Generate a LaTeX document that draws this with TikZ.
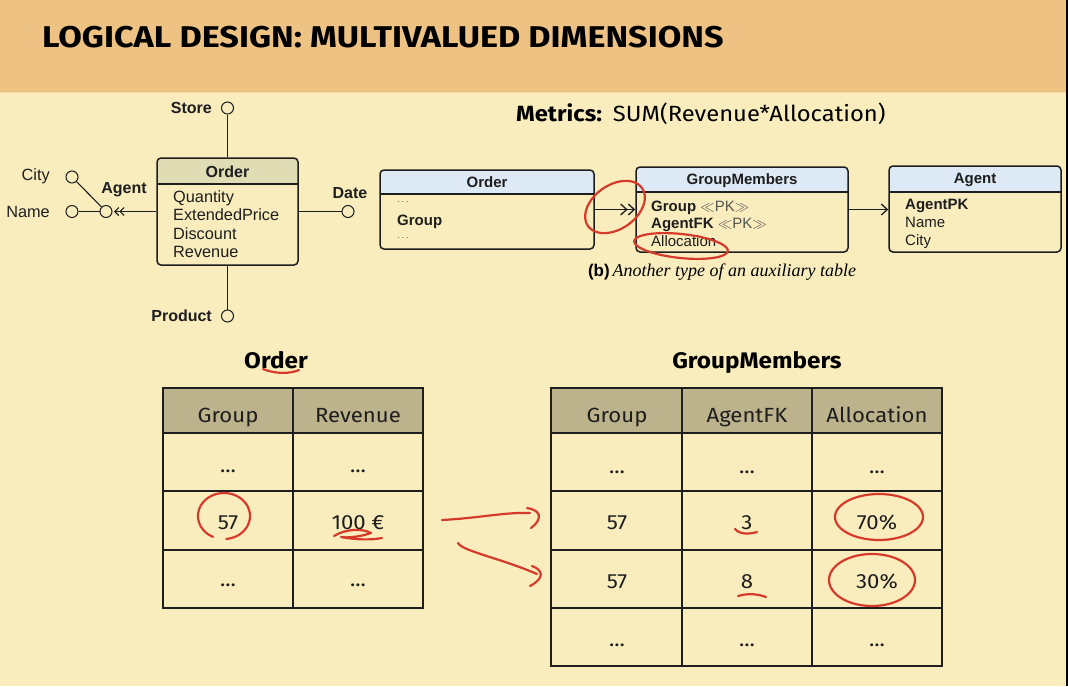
\documentclass[tikz,border=0pt]{standalone}
\usepackage{fontspec}
\setmainfont{Liberation Sans}
\newfontfamily\helv{Liberation Sans}
\newfontfamily\tms{Liberation Serif}
\newfontfamily\comic[FakeStretch=1.08]{Fira Sans}
\newfontfamily\comictitle[FakeStretch=1.14]{Fira Sans}
\usetikzlibrary{arrows.meta}
\definecolor{band}{HTML}{EDC283}
\definecolor{bandline}{HTML}{F4D9A4}
\definecolor{bg}{HTML}{F9EDBE}
\definecolor{dfmhdr}{HTML}{E0DCB4}
\definecolor{bluehdr}{HTML}{DDE9F5}
\definecolor{thdr}{HTML}{BCB28B}
\definecolor{ink}{HTML}{1E1E1E}
\definecolor{redc}{HTML}{D63A2A}
\definecolor{pkgray}{HTML}{555555}
\newcommand\redloop[7]{%
  \draw[redpen] plot[domain=#6:#7, samples=70, smooth, variable=\t]
   ({#1+#3*cos(\t)*cos(#5)+#4*sin(\t)*sin(#5)},
    {#2-#3*cos(\t)*sin(#5)+#4*sin(\t)*cos(#5)});}
\begin{document}
\begin{tikzpicture}[x=1pt,y=-1pt,
  box/.style={draw=ink, line width=1.5pt, rounded corners=4pt, inner sep=0pt},
  conn/.style={draw=ink, line width=1.1pt},
  circ/.style={circle, draw=ink, line width=1pt, minimum size=12pt, inner sep=0pt, fill=bg},
  dfm/.style={font=\helv\fontsize{16.3}{18}\selectfont, inner sep=0pt, text=ink},
  dfmb/.style={font=\helv\bfseries\fontsize{16}{18}\selectfont, inner sep=0pt, text=ink},
  rt/.style={font=\helv\fontsize{15}{18}\selectfont, inner sep=0pt, text=ink, anchor=base west},
  rtb/.style={font=\helv\bfseries\fontsize{15}{18}\selectfont, inner sep=0pt, text=ink, anchor=base},
  tcell/.style={font=\comic\fontsize{20.5}{20.5}\selectfont, inner sep=0pt, anchor=base, text=ink},
  ttitle/.style={font=\comic\bfseries\fontsize{22.5}{22.5}\selectfont, inner sep=0pt, anchor=base, text=black},
  tgrid/.style={draw=ink, line width=1.8pt},
  touter/.style={draw=ink, line width=2.6pt},
  redpen/.style={draw=redc, line width=2.2pt, line cap=round, line join=round},
  barb/.style={-{Straight Barb[length=6pt,width=11pt]Straight Barb[length=6pt,width=11pt]}}
]
\useasboundingbox (0,0) rectangle (1068,686);
\fill[bg] (0,0) rectangle (1068,686);
\fill[band] (0,0) rectangle (1068,92);
\draw[bandline, line width=1.5pt] (0,92.5) -- (1068,92.5);
\fill[black] (1066,0) rectangle (1068,686);

% title
\node[anchor=base west, inner sep=0pt, font=\comictitle\bfseries\fontsize{30}{30}\selectfont] (title) at (42,47) {LOGICAL DESIGN: MULTIVALUED DIMENSIONS};

% ---------------- left DFM schema ----------------
\begin{scope}
\clip (157,158) rectangle (298,184);
\fill[dfmhdr, rounded corners=4pt] (157,158) rectangle (298,265);
\end{scope}
\node[box, minimum width=141pt, minimum height=107pt] (ordL) at (227.5,211.5) {};
\draw[ink, line width=1.3pt] (157,184) -- (298,184);
\node[dfmb, anchor=base] (ordLt) at (227.5,177) {Order};
\node[dfm, anchor=base west] (aq) at (173,202) {Quantity};
\node[dfm, anchor=base west] (ae) at (173,220.5) {ExtendedPrice};
\node[dfm, anchor=base west] (ad) at (173,239) {Discount};
\node[dfm, anchor=base west] (ar) at (173,257.5) {Revenue};

\node[circ] (store) at (227.5,108) {};
\node[circ] (product) at (227.5,316) {};
\node[circ] (date) at (348,211.5) {};
\node[circ] (agent) at (106,211.5) {};
\node[circ] (name) at (72,211.5) {};
\node[circ] (city) at (72,177) {};

\node[dfmb, anchor=east] (storel) at (212,108) {Store};
\node[dfmb, anchor=east] (productl) at (212,316) {Product};
\node[dfmb] (datel) at (350,193) {Date};
\node[dfmb] (agentl) at (124,190) {Agent};
\node[dfm, anchor=east] (cityl) at (50,176.5) {City};
\node[dfm, anchor=east] (namel) at (50,211.5) {Name};

\draw[conn] (ordL.north) -- (store.south);
\draw[conn] (ordL.south) -- (product.north);
\draw[conn] (ordL.east) -- (date.west);
\draw[conn, -{Straight Barb[length=4pt,width=8pt]Straight Barb[length=4pt,width=8pt]}, shorten >=1.5pt] (ordL.west) -- (agent.east);
\draw[conn] (name.east) -- (agent.west);
\draw[conn] (city) -- (agent);

% ---------------- right logical schema ----------------
\node[anchor=base west, inner sep=0pt, font=\comic\fontsize{22}{22}\selectfont] (metrics) at (516,121) {\bfseries Metrics:\hspace{11pt}\mdseries SUM(Revenue*Allocation)};

\begin{scope}
\clip (380,170) rectangle (594,194);
\fill[bluehdr, rounded corners=4pt] (380,170) rectangle (594,249);
\end{scope}
\node[box, minimum width=214pt, minimum height=79pt] (ordR) at (487,209.5) {};
\draw[ink, line width=1.3pt] (380,194) -- (594,194);
\node[rtb] (ordRt) at (487,187.5) {Order};
\node[rt, text=pkgray] (ordRd1) at (397,204) {\fontsize{10}{10}\selectfont$\cdots$};
\node[rt, font=\helv\bfseries\fontsize{15}{18}\selectfont] (ordRg) at (397,225) {Group};
\node[rt, text=pkgray] (ordRd2) at (397,240) {\fontsize{10}{10}\selectfont$\cdots$};

\begin{scope}
\clip (636,167) rectangle (848,192);
\fill[bluehdr, rounded corners=4pt] (636,167) rectangle (848,252);
\end{scope}
\node[box, minimum width=212pt, minimum height=85pt] (gm) at (742,209.5) {};
\draw[ink, line width=1.3pt] (636,192) -- (848,192);
\node[rtb] (gmt) at (742,184) {GroupMembers};
\node[rt] (gm1) at (651,211) {\bfseries Group \mdseries\textcolor{pkgray}{$\ll$PK$\gg$}};
\node[rt] (gm2) at (651,228.5) {\bfseries AgentFK \mdseries\textcolor{pkgray}{$\ll$PK$\gg$}};
\node[rt] (gm3) at (651,246) {Allocation};

\begin{scope}
\clip (889,166) rectangle (1061,192);
\fill[bluehdr, rounded corners=4pt] (889,166) rectangle (1061,252);
\end{scope}
\node[box, minimum width=172pt, minimum height=86pt] (ag) at (975,209) {};
\draw[ink, line width=1.3pt] (889,192) -- (1061,192);
\node[rtb] (agt) at (975,183) {Agent};
\node[rt, font=\helv\bfseries\fontsize{15}{18}\selectfont] (ag1) at (905,209) {AgentPK};
\node[rt] (ag2) at (905,227) {Name};
\node[rt] (ag3) at (905,245) {City};

\draw[conn, line width=1.3pt, barb] (ordR.east) -- (gm.west);
\draw[conn, line width=1.3pt, -{Straight Barb[length=6pt,width=11pt]}] (gm.east) -- (gm.east -| ag.west);

\node[anchor=base, inner sep=0pt] (caption) at (722,276) {{\helv\bfseries\fontsize{17}{17}\selectfont (b)} {\tms\itshape\fontsize{18}{18}\selectfont Another type of an auxiliary table}};

% ---------------- bottom tables ----------------
\node[ttitle] (ordTt) at (276,368) {Order};
\node[ttitle] (gmTt) at (757,368) {GroupMembers};

% Order table
\fill[thdr] (163,388) rectangle (423,433);
\foreach \yy in {433,491,550} \draw[tgrid] (163,\yy) -- (423,\yy);
\draw[tgrid] (293,388) -- (293,608);
\draw[touter] (163,388) rectangle (423,608);
\node[tcell] (oh1) at (228,422) {Group};
\node[tcell] (oh2) at (358,422) {Revenue};
\node[tcell] (o11) at (228,472) {...};
\node[tcell] (o12) at (358,472) {...};
\node[tcell] (o21) at (228,529) {57};
\node[tcell] (o22) at (358,529) {100 €};
\node[tcell] (o31) at (228,586) {...};
\node[tcell] (o32) at (358,586) {...};

% GroupMembers table
\fill[thdr] (551,388) rectangle (942,433);
\foreach \yy in {433,491,550,608} \draw[tgrid] (551,\yy) -- (942,\yy);
\foreach \xx in {682,812} \draw[tgrid] (\xx,388) -- (\xx,666);
\draw[touter] (551,388) rectangle (942,666);
\node[tcell] (gh1) at (617,422) {Group};
\node[tcell] (gh2) at (747,422) {AgentFK};
\node[tcell] (gh3) at (877,422) {Allocation};
\node[tcell] (g11) at (617,473) {...};
\node[tcell] (g12) at (747,473) {...};
\node[tcell] (g13) at (877,473) {...};
\node[tcell] (g21) at (617,529) {57};
\node[tcell] (g22) at (747,529) {3};
\node[tcell] (g23) at (877,529) {70\%};
\node[tcell] (g31) at (617,588) {57};
\node[tcell] (g32) at (747,588) {8};
\node[tcell] (g33) at (877,588) {30\%};
\node[tcell] (g41) at (617,646) {...};
\node[tcell] (g42) at (747,646) {...};
\node[tcell] (g43) at (877,646) {...};

% ---------------- red annotations ----------------
\redloop{615}{207}{33}{22}{35}{20}{392}
\redloop{681}{246}{47}{12}{-6}{170}{535}
\draw[redpen] (263,369) .. controls (275,374) and (290,374) .. (299,370);
\redloop{224}{516}{26}{23}{0}{115}{445}
\draw[redpen] (334,536) .. controls (345,529) and (362,528) .. (371,533) .. controls (360,537) and (346,538) .. (341,537) .. controls (356,540) and (372,540) .. (382,538);
\draw[redpen] (442,520) .. controls (480,518) and (505,512) .. (530,513);
\draw[redpen] (527,508) .. controls (540,510) and (544,518) .. (531,528);
\draw[redpen] (458,543) .. controls (462,551) and (500,558) .. (537,574);
\draw[redpen] (532,566) .. controls (543,570) and (545,578) .. (530,586);
\draw[redpen] (735,529) .. controls (740,535) and (750,534) .. (757,532);
\draw[redpen] (738,596) .. controls (748,593) and (758,594) .. (766,597);
\redloop{879}{517}{44}{23}{0}{255}{625}
\redloop{872}{580}{43}{26}{0}{255}{625}
\end{tikzpicture}
\end{document}
